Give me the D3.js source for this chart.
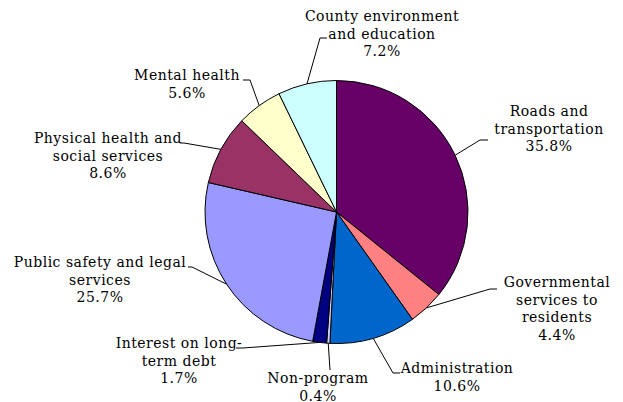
<!DOCTYPE html>
<html>
<head>
<meta charset="utf-8">
<script src="https://cdn.jsdelivr.net/npm/d3@7"></script>
<style>
  body { margin: 0; background: #fff; }
  text { font-family: "DejaVu Serif", serif; font-size: 14px; letter-spacing: 0.5px; fill: #000; }
</style>
</head>
<body>
<svg id="chart" width="623" height="402"></svg>
<script>
// slices, clockwise from 12 o'clock
var categories = ["Roads and transportation", "Governmental services to residents", "Administration",
	"Non-program", "Interest on long-term debt", "Public safety and legal services",
	"Physical health and social services", "Mental health", "County environment and education"];
var shares = [35.8, 4.4, 10.6, 0.4, 1.7, 25.7, 8.6, 5.6, 7.2];
var labelLines = [
	["Roads and", "transportation"],
	["Governmental", "services to", "residents"],
	["Administration"],
	["Non-program"],
	["Interest on long-", "term debt"],
	["Public safety and legal", "services"],
	["Physical health and", "social services"],
	["Mental health"],
	["County environment", "and education"]
];
var colors = ["#660066", "#FF8080", "#0066CC", "#CCCCFF", "#000080", "#9999FF", "#993366", "#FFFFCC", "#CCFFFF"];

// label placement: text centre x, first baseline, leader elbow, leader tail x
var labelPos = [
	{ tx: 549, ty: 116, ex: 480, ey: 140, tail: 488 },
	{ tx: 557, ty: 287, ex: 490, ey: 289, tail: 497 },
	{ tx: 457, ty: 373, ex: 393, ey: 373, tail: 400 },
	{ tx: 318, ty: 383, ex: 330, ey: 370, tail: 330 },
	{ tx: 179, ty: 348, ex: 243, ey: 348, tail: 236 },
	{ tx: 100, ty: 267, ex: 192, ey: 267, tail: 188 },
	{ tx: 108, ty: 143, ex: 184, ey: 143, tail: 180 },
	{ tx: 187, ty: 80, ex: 250, ey: 80, tail: 243 },
	{ tx: 382, ty: 21, ex: 320, ey: 38, tail: 327 }
];

var cx = 336.5, cy = 212, radius = 131.5, lineH = 17.5;

var svg = d3.select("#chart");
var g = svg.append("g").attr("transform", "translate(" + cx + "," + cy + ")");

var pie = d3.pie().sort(null).value(function (d) { return d; });
var arc = d3.arc().innerRadius(0).outerRadius(radius);
var arcs = pie(shares);

g.selectAll("path.slice")
	.data(arcs)
	.enter().append("path")
	.attr("class", "slice")
	.attr("d", arc)
	.attr("fill", function (d, i) { return colors[i]; })
	.attr("stroke", "#000")
	.attr("stroke-width", 1);

// leader lines
arcs.forEach(function (a, i) {
	var p = labelPos[i];
	var m = (a.startAngle + a.endAngle) / 2;
	var sx = cx + radius * Math.sin(m), sy = cy - radius * Math.cos(m);
	svg.append("polyline")
		.attr("points", [[sx, sy], [p.ex, p.ey], [p.tail, p.ey]].map(function (q) { return q.join(","); }).join(" "))
		.attr("fill", "none")
		.attr("stroke", "#000")
		.attr("stroke-width", 1);
});

// labels
categories.forEach(function (c, i) {
	var p = labelPos[i];
	var lines = labelLines[i].concat([d3.format(".1f")(shares[i]) + "%"]);
	var t = svg.append("text").attr("text-anchor", "middle");
	lines.forEach(function (s, k) {
		t.append("tspan").attr("x", p.tx).attr("y", p.ty + k * lineH).text(s);
	});
});
</script>
</body>
</html>
